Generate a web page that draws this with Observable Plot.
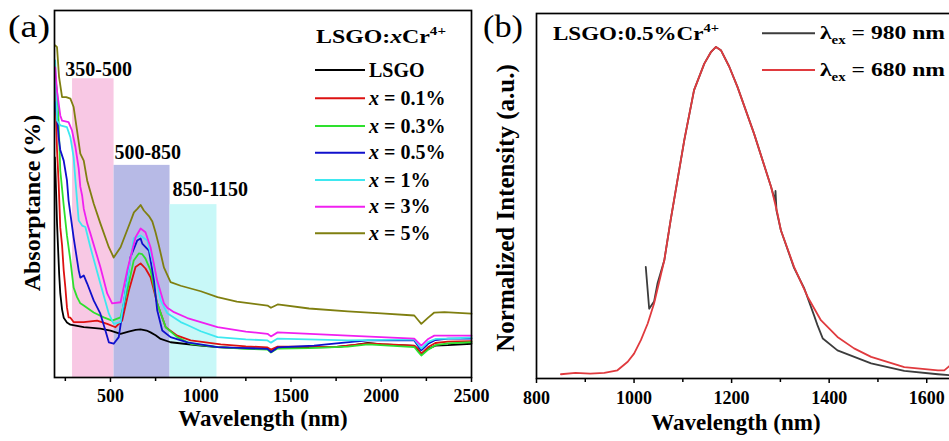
<!DOCTYPE html>
<html>
<head>
<meta charset="utf-8">
<script src="https://cdn.jsdelivr.net/npm/d3@7"></script>
<script src="https://cdn.jsdelivr.net/npm/@observablehq/plot@0.6"></script>
<style>
html, body { margin: 0; padding: 0; background: #fff; overflow: hidden; }
#wrap { position: relative; width: 949px; height: 441px; overflow: hidden; background: #fff; }
</style>
</head>
<body>
<div id="wrap"></div>
<script>
// ---------------- Panel (a) data: absorptance spectra ----------------
const absSeries = ["LSGO", "x = 0.1%", "x = 0.3%", "x = 0.5%", "x = 1%", "x = 3%", "x = 5%"];
const absColors = ["#000000", "#dd1111", "#2ee02e", "#1010cc", "#3ee8f0", "#f020f0", "#7f7f10"];

const lsgo = [[192,60],[196,55],[204,42],[211,33.8],[216,28],[222,22.9],[232,18.5],[241,16.3],[259,15],[278,14.4],[300,14.2],[352,13.7],[400,13.5],[444,13.3],[500,12.8],[556,11.9],[600,12.5],[640,13.0],[667,13.1],[700,12.8],[722,12.3],[750,11.5],[778,10.5],[833,9.6],[907,9.2],[1000,8.7],[1093,8.3],[1200,8.0],[1300,7.9],[1370,7.8],[1389,7.0],[1426,8.1],[1500,8.1],[1600,8.2],[1739,8.3],[1850,8.8],[1926,9.4],[2000,9.0],[2100,8.8],[2183,8.6],[2205,7.5],[2222,6.4],[2260,7.8],[2300,8.7],[2370,8.8],[2500,9.2]];
const cr01 = [[194,79],[204,62],[213,52.9],[222,40.9],[232,36],[241,29.2],[250,24.6],[259,19.1],[268,16.4],[278,16.3],[296,15.1],[352,15.1],[426,15.5],[482,14.6],[528,13.7],[565,15.5],[602,23.7],[639,30.1],[667,31.1],[694,29.7],[722,27.3],[759,20.2],[806,13.7],[870,11.4],[944,10.1],[1111,9.0],[1250,8.5],[1370,8.2],[1389,7.6],[1426,8.4],[1600,8.4],[1739,8.3],[1926,9.3],[2183,8.7],[2205,7.8],[2222,6.5],[2260,8.3],[2300,9.4],[2370,9.8],[2500,9.9]];
const cr03 = [[194,82],[204,78],[210,73.6],[222,56.4],[241,46.9],[259,38.7],[278,31.9],[296,24.5],[315,21.9],[333,20.2],[352,19.6],[407,17.7],[463,16.4],[509,15.5],[556,16.4],[593,23.7],[629,31.9],[657,33.8],[676,33.6],[694,32.4],[722,29.2],[759,20.2],[806,13.7],[870,11.0],[944,9.2],[1093,8.3],[1250,7.8],[1370,7.6],[1389,6.8],[1426,7.9],[1600,8.0],[1815,8.4],[1926,9.0],[2183,8.3],[2205,7.0],[2222,6.0],[2260,7.6],[2300,8.8],[2370,9.3],[2500,9.6]];
const cr05 = [[194,75],[204,71],[213,65.5],[222,62],[241,59.1],[250,56.4],[259,53.7],[268,48.2],[296,38.1],[324,29.2],[333,27.2],[352,27.8],[371,25.6],[407,21.0],[444,17.4],[472,12.8],[491,9.6],[518,9.2],[546,11.0],[574,20.2],[611,32.8],[648,37.3],[667,37.9],[676,36.5],[713,34.6],[741,26.4],[759,18.3],[787,12.8],[833,11.0],[926,9.6],[1093,8.3],[1250,8.0],[1370,7.8],[1389,6.9],[1426,8.2],[1628,8.7],[1850,9.8],[1926,10.1],[2183,10.1],[2205,8.5],[2222,7.4],[2260,9.2],[2300,10.2],[2370,10.6],[2500,10.6]];
const cr1 = [[194,86.4],[200,76],[204,70.0],[222,68.7],[259,68.2],[278,65.5],[296,60.0],[306,53.7],[324,42.8],[343,41.4],[361,41.0],[389,35.5],[444,25.6],[491,17.4],[518,14.6],[556,15.1],[593,26.4],[629,37.9],[667,38.7],[704,37.3],[741,30.1],[778,21.0],[815,17.5],[889,15.1],[926,14.3],[1000,12.6],[1093,11.0],[1250,10.4],[1370,10.1],[1389,9.5],[1426,10.6],[1815,10.1],[2183,10.4],[2205,9.0],[2222,7.9],[2260,9.7],[2300,10.5],[2370,10.6],[2500,10.9]];
const cr3 = [[194,84.5],[204,78],[222,71.4],[232,70.0],[250,69.8],[268,69.6],[287,67.3],[306,62.8],[324,57],[333,52],[343,49.6],[352,46],[371,42],[389,39.2],[444,30.1],[482,22.9],[509,20.2],[556,20.5],[593,29.2],[639,38.2],[667,40.6],[694,39.6],[722,35.5],[759,26.4],[796,20.2],[815,19.0],[852,17.8],[926,16.2],[1093,13.7],[1250,12.5],[1370,11.9],[1389,11.2],[1426,12.3],[1815,11.4],[2183,10.6],[2205,9.5],[2222,8.7],[2260,10.5],[2294,11.4],[2500,11.4]];
const cr5 = [[194,90.5],[204,90.0],[215,82],[232,76.4],[255,76.4],[278,76.0],[296,73.7],[315,67.3],[333,61.0],[352,59.1],[371,53.7],[407,47.4],[444,42.0],[491,35.5],[518,32.7],[556,35.5],[611,42.5],[630,45.0],[650,46.0],[667,47.0],[685,45.5],[713,44.0],[732,42.5],[750,39.5],[768,36.0],[796,30.0],[833,26.0],[889,25.0],[1000,23.5],[1093,21.9],[1200,20.7],[1370,19.6],[1389,19.0],[1426,19.9],[1600,18.8],[1815,18.0],[2000,17.5],[2183,16.9],[2205,15.6],[2222,14.6],[2260,16.3],[2294,17.7],[2350,17.8],[2500,17.4]];
const absSpectra = [lsgo, cr01, cr03, cr05, cr1, cr3, cr5];

// shaded excitation bands
const bandLabels = ["350-500", "500-850", "850-1150"];
const bandStart = [290, 520, 830];
const bandEnd = [520, 830, 1090];
const bandTop = [81.4, 57.8, 47.1];
const bandFill = ["#f8c8e4", "#b7bae6", "#c8f8f8"];
const labelNm = [250, 522, 844];
const labelLevel = [83.8, 61.3, 51.2];

const absTicks = [500, 1000, 1500, 2000, 2500];
const absMinor = [250, 750, 1250, 1750, 2250];

// ---------------- Panel (b) data: normalized emission ----------------
const emSeries = ["\u03bbex = 980 nm", "\u03bbex = 680 nm"];
const emColors = ["#3c3c3c", "#e03a3e"];
const ex980 = [[1024,0.328],[1031,0.2],[1041,0.222],[1048,0.277],[1062,0.348],[1075,0.471],[1082,0.532],[1103,0.715],[1123,0.868],[1144,0.949],[1158,0.985],[1168,1.0],[1178,0.99],[1195,0.94],[1212,0.878],[1246,0.735],[1281,0.572],[1289,0.53],[1290,0.56],[1292,0.5],[1301,0.44],[1328,0.325],[1349,0.262],[1369,0.18],[1376,0.15],[1387,0.109],[1417,0.073],[1486,0.033],[1554,0.010],[1623,0.0],[1648,-0.003]];
const ex680 = [[850,0.0],[880,0.004],[910,0.002],[939,0.004],[966,0.012],[987,0.038],[1000,0.063],[1014,0.104],[1028,0.155],[1041,0.216],[1062,0.348],[1075,0.471],[1082,0.532],[1103,0.715],[1123,0.868],[1144,0.949],[1158,0.985],[1168,1.0],[1178,0.99],[1195,0.94],[1212,0.878],[1246,0.735],[1281,0.572],[1294,0.491],[1301,0.44],[1328,0.328],[1356,0.236],[1383,0.165],[1417,0.114],[1451,0.079],[1486,0.053],[1554,0.022],[1623,0.012],[1636,0.012],[1648,0.027]];
const emSpectra = [ex980, ex680];
const emTicks = [800, 1000, 1200, 1400, 1600];
const emMinor = [900, 1100, 1300, 1500, 1700];

// ---------------- build ----------------
const FONT = "'Liberation Serif', 'Times New Roman', Times, serif";
const wrap = document.getElementById("wrap");

const absData = absSeries.flatMap((s, i) => absSpectra[i].map(([nm, a]) => ({series: s, nm, a})));
const emData = emSeries.flatMap((s, i) => emSpectra[i].map(([nm, v]) => ({series: s, nm, v})));

const baseStyle = {fontFamily: FONT, fontWeight: "bold", fontSize: "18px", color: "#000", background: "transparent", overflow: "visible"};

const plotA = Plot.plot({
  width: 500, height: 441,
  marginLeft: 54, marginRight: 29, marginTop: 10, marginBottom: 64,
  style: baseStyle,
  x: {domain: [190, 2500]},
  y: {domain: [0, 100], axis: null},
  color: {domain: absSeries, range: absColors},
  marks: [
    ...bandLabels.map((d, i) => Plot.rect([d], {
      x1: () => bandStart[i], x2: () => bandEnd[i], y1: () => 0, y2: () => bandTop[i], fill: bandFill[i]
    })),
    Plot.line(absData, {x: "nm", y: "a", z: "series", stroke: "series", strokeWidth: 1.8}),
    Plot.text(bandLabels, {x: (d, i) => labelNm[i], y: (d, i) => labelLevel[i], text: d => d,
      textAnchor: "start", fontSize: 20, fontWeight: "bold"}),
    Plot.axisX({ticks: absTicks, tickSize: 5, tickPadding: 7, strokeWidth: 1.5, label: null,
      tickFormat: d => String(d), fontSize: 18}),
    Plot.axisX({ticks: absMinor, tickSize: 4, strokeWidth: 1.5, label: null, tickFormat: () => ""}),
    Plot.frame({stroke: "#000", strokeWidth: 1.7}),
    Plot.text(["Wavelength (nm)"], {frameAnchor: "bottom", text: d => d, textAnchor: "middle", lineAnchor: "middle",
      dy: 41, fontSize: 23, fontWeight: "bold"}),
    Plot.text(["Absorptance (%)"], {frameAnchor: "left", text: d => d, textAnchor: "middle", lineAnchor: "middle",
      rotate: -90, dx: -22, dy: 9, fontSize: 24, fontWeight: "bold"})
  ]
});
plotA.style.position = "absolute"; plotA.style.left = "0px"; plotA.style.top = "0px";
wrap.appendChild(plotA);

const plotB = Plot.plot({
  width: 531, height: 441,
  marginLeft: 66, marginRight: 26, marginTop: 13, marginBottom: 63,
  style: baseStyle,
  x: {domain: [800, 1700]},
  y: {domain: [-0.013, 1.102], axis: null},
  color: {domain: emSeries, range: emColors},
  marks: [
    Plot.line(emData, {x: "nm", y: "v", z: "series", stroke: "series", strokeWidth: 1.8}),
    Plot.axisX({ticks: emTicks, tickSize: 5, tickPadding: 8, strokeWidth: 1.5, label: null,
      tickFormat: d => String(d), fontSize: 18}),
    Plot.axisX({ticks: emMinor, tickSize: 4, strokeWidth: 1.5, label: null, tickFormat: () => ""}),
    Plot.frame({stroke: "#000", strokeWidth: 1.7}),
    Plot.text(["Wavelength (nm)"], {frameAnchor: "bottom", text: d => d, textAnchor: "middle", lineAnchor: "middle",
      dx: -20, dy: 44, fontSize: 23, fontWeight: "bold"}),
    Plot.text(["Normalized Intensity (a.u.)"], {frameAnchor: "left", text: d => d, textAnchor: "middle", lineAnchor: "middle",
      rotate: -90, dx: -31, dy: 12, fontSize: 25, fontWeight: "bold"})
  ]
});
plotB.style.position = "absolute"; plotB.style.left = "470px"; plotB.style.top = "0px";
wrap.appendChild(plotB);

// ---------------- legends and panel letters (overlay) ----------------
const ov = d3.select(wrap).append("svg")
  .attr("width", 949).attr("height", 441)
  .style("position", "absolute").style("left", "0px").style("top", "0px")
  .style("font-family", FONT).style("font-weight", "bold");

ov.append("text").attr("x", 8).attr("y", 37).attr("font-size", 32).attr("font-weight", "normal")
  .attr("textLength", 42).attr("lengthAdjust", "spacingAndGlyphs").text("(a)");
ov.append("text").attr("x", 483).attr("y", 37).attr("font-size", 32).attr("font-weight", "normal")
  .attr("textLength", 40).attr("lengthAdjust", "spacingAndGlyphs").text("(b)");

// panel (a) legend
const ta = ov.append("text").attr("x", 316).attr("y", 43).attr("font-size", 19)
  .attr("textLength", 130).attr("lengthAdjust", "spacingAndGlyphs");
ta.append("tspan").text("LSGO:");
ta.append("tspan").attr("font-style", "italic").text("x");
ta.append("tspan").text("Cr");
ta.append("tspan").attr("font-size", 12).attr("dy", -8).text("4+");

const rowA = [70, 98.3, 126, 152.7, 180, 206.7, 233.3];
absSeries.forEach((s, i) => {
  ov.append("line").attr("x1", 315).attr("x2", 365).attr("y1", rowA[i]).attr("y2", rowA[i])
    .attr("stroke", absColors[i]).attr("stroke-width", 2);
  const t = ov.append("text").attr("x", 369).attr("y", rowA[i] + 6.5).attr("font-size", 20);
  if (s.startsWith("x ")) {
    t.append("tspan").attr("font-style", "italic").text("x");
    t.append("tspan").text(s.slice(1));
  } else {
    t.text(s);
  }
});

// panel (b) legend
const tb = ov.append("text").attr("x", 553).attr("y", 40).attr("font-size", 19)
  .attr("textLength", 166).attr("lengthAdjust", "spacingAndGlyphs");
tb.append("tspan").text("LSGO:0.5%Cr");
tb.append("tspan").attr("font-size", 12).attr("dy", -8).text("4+");

const rowB = [33.3, 70];
emSeries.forEach((s, i) => {
  ov.append("line").attr("x1", 762).attr("x2", 815).attr("y1", rowB[i]).attr("y2", rowB[i])
    .attr("stroke", emColors[i]).attr("stroke-width", 2);
  const t = ov.append("text").attr("x", 820).attr("y", rowB[i] + 6).attr("font-size", 19)
    .attr("textLength", 125).attr("lengthAdjust", "spacingAndGlyphs");
  t.append("tspan").text("\u03bb");
  t.append("tspan").attr("font-size", 12).attr("dy", 5).text("ex");
  t.append("tspan").attr("dy", -5).text(s.slice(3));
});
</script>
</body>
</html>
